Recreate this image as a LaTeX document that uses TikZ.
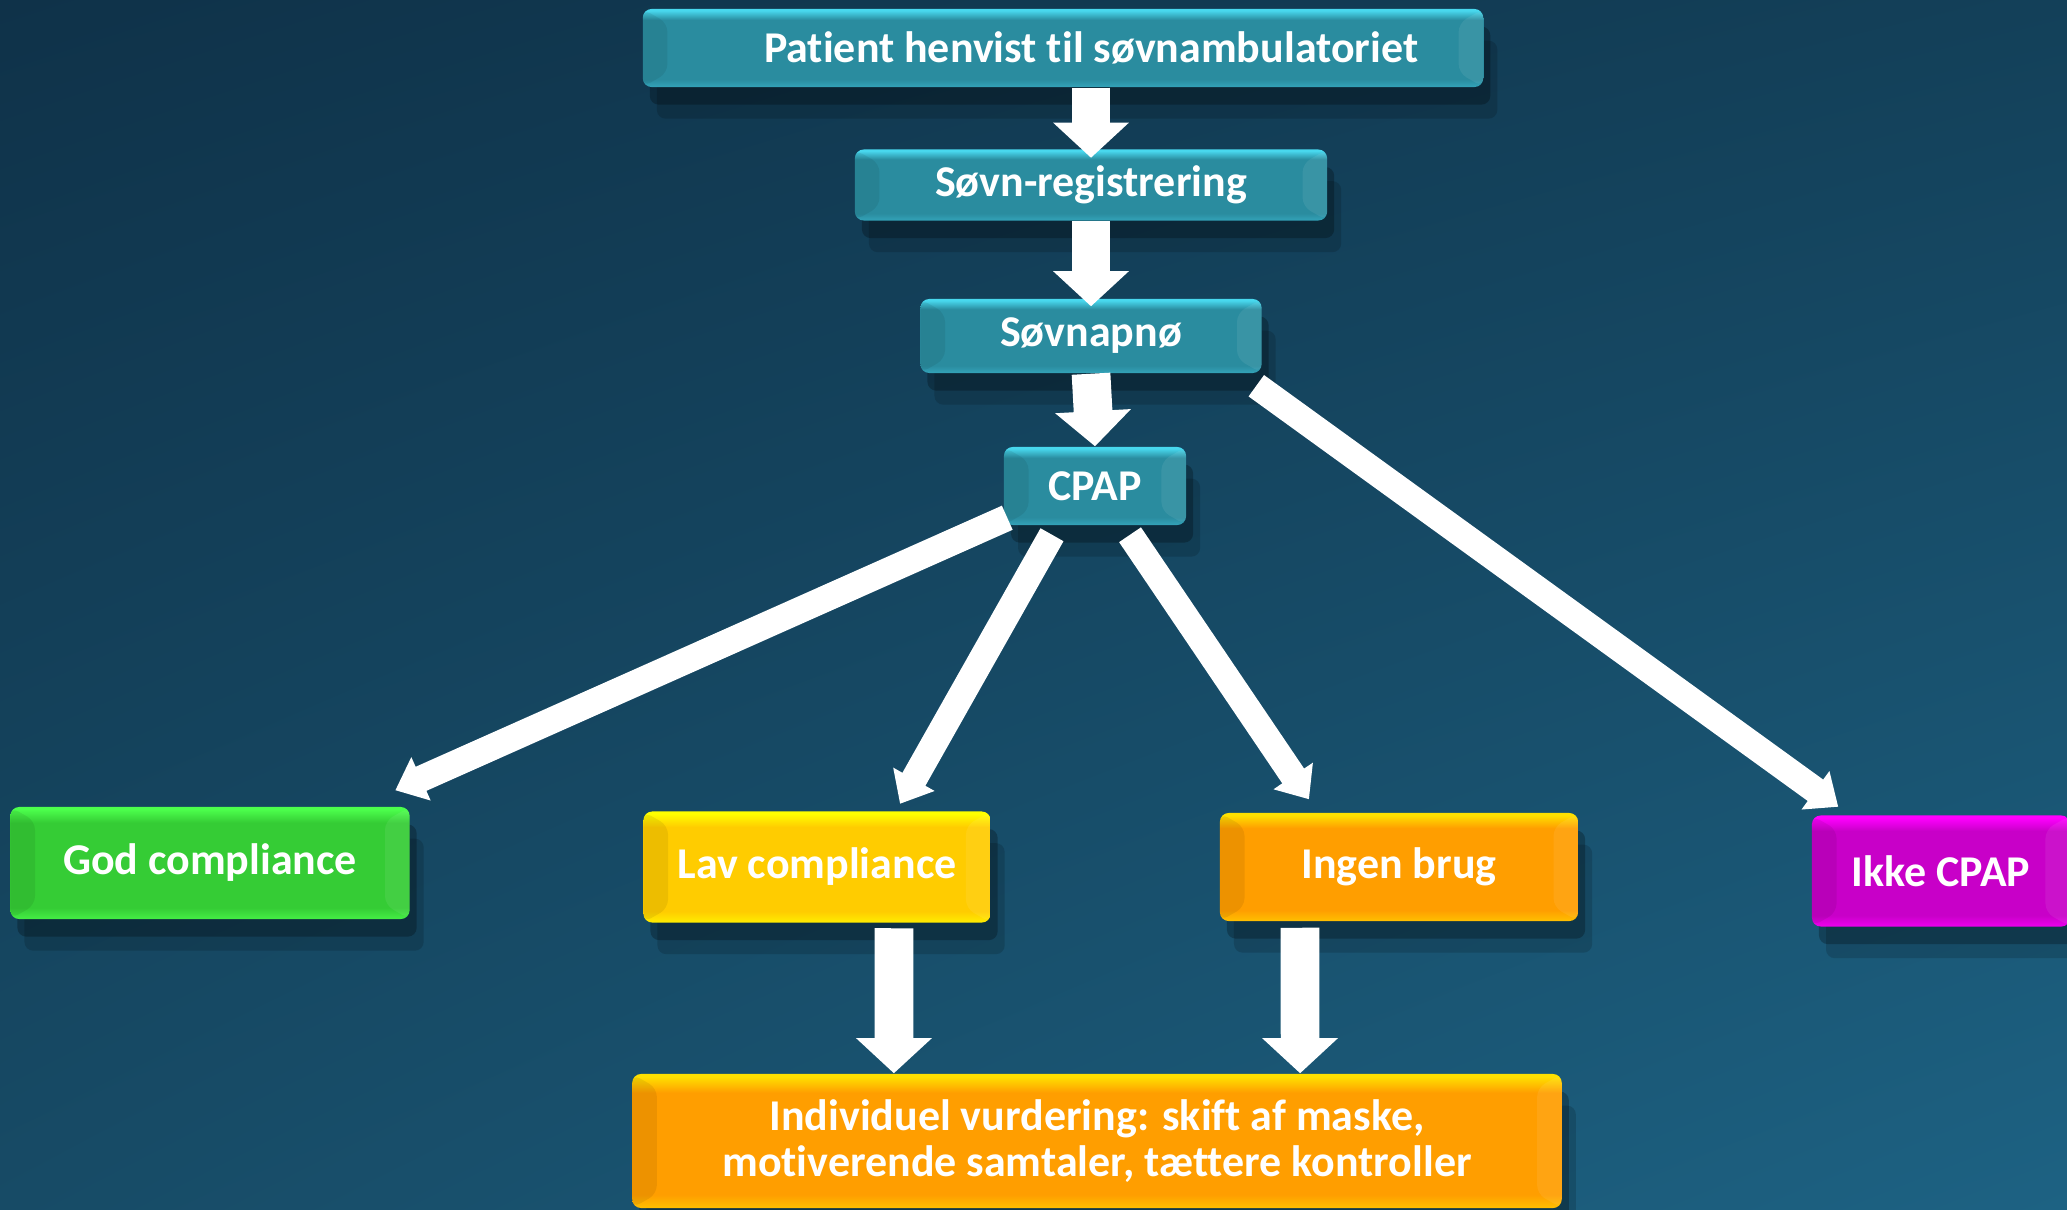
\documentclass[tikz,border=0pt]{standalone}
\usepackage{fontspec}
\setmainfont{Carlito}[Ligatures=NoCommon]
\usetikzlibrary{arrows.meta,shadows,shadings}
\definecolor{bgUL}{HTML}{0F3249}
\definecolor{bgUR}{HTML}{134059}
\definecolor{bgLL}{HTML}{174B66}
\definecolor{bgLR}{HTML}{1D6283}
\definecolor{tealT}{HTML}{48D8EE}
\definecolor{tealM}{HTML}{2A8C9F}
\definecolor{tealB}{HTML}{33A3B9}
\definecolor{greenT}{HTML}{4CFF4C}
\definecolor{greenM}{HTML}{35CC35}
\definecolor{greenB}{HTML}{45EE45}
\definecolor{yellowT}{HTML}{FFFF00}
\definecolor{yellowM}{HTML}{FFCC00}
\definecolor{yellowB}{HTML}{FFEE00}
\definecolor{orangeT}{HTML}{FFE000}
\definecolor{orangeM}{HTML}{FF9E00}
\definecolor{orangeB}{HTML}{FFC000}
\definecolor{magT}{HTML}{FF00FF}
\definecolor{magM}{HTML}{C800C8}
\definecolor{magB}{HTML}{EE00EE}
\colorlet{bvT}{tealT}
\colorlet{bvM}{tealM}
\colorlet{bvB}{tealB}
% flat body, bright top edge, lighter bottom edge (path covers 25bp..75bp)
\pgfdeclareverticalshading[bvT,bvM,bvB]{bevel}{100bp}{color(0bp)=(bvB); color(25bp)=(bvB); color(30bp)=(bvM); color(68bp)=(bvM); color(74bp)=(bvT); color(100bp)=(bvT)}
\begin{document}
\begin{tikzpicture}[x=0.01cm,y=-0.01cm,
  box/.style={rounded corners=2.5pt, inner sep=0pt, text=white, align=center,
    font=\fontsize{12.5}{13}\selectfont\bfseries, shading=bevel,
    drop shadow={shadow xshift=4pt, shadow yshift=-9pt, fill=black, opacity=0.15},
    drop shadow={shadow xshift=2pt, shadow yshift=-5pt, fill=black, opacity=0.25},
    path picture={
      \fill[black,opacity=0.07] (path picture bounding box.north west) -- ++(7pt,-4pt)
        -- ([shift={(7pt,4pt)}]path picture bounding box.south west) -- (path picture bounding box.south west) -- cycle;
      \fill[white,opacity=0.07] (path picture bounding box.north east) -- ++(-7pt,-4pt)
        -- ([shift={(-7pt,4pt)}]path picture bounding box.south east) -- (path picture bounding box.south east) -- cycle;}},
  tealbox/.style={box, /utils/exec={\colorlet{bvT}{tealT}\colorlet{bvM}{tealM}\colorlet{bvB}{tealB}}},
  greenbox/.style={box, /utils/exec={\colorlet{bvT}{greenT}\colorlet{bvM}{greenM}\colorlet{bvB}{greenB}}},
  yellowbox/.style={box, /utils/exec={\colorlet{bvT}{yellowT}\colorlet{bvM}{yellowM}\colorlet{bvB}{yellowB}}},
  orangebox/.style={box, /utils/exec={\colorlet{bvT}{orangeT}\colorlet{bvM}{orangeM}\colorlet{bvB}{orangeB}}},
  magbox/.style={box, /utils/exec={\colorlet{bvT}{magT}\colorlet{bvM}{magM}\colorlet{bvB}{magB}}},
  down/.style={line width=11pt, white, -{Triangle[width=21pt,length=10pt]}},
  diag/.style={line width=7.5pt, white, -{Triangle[width=13pt,length=8pt]}}]

  \useasboundingbox (0,0) rectangle (2067,1209);
  \shade[upper left=bgUL, upper right=bgUR, lower left=bgLL, lower right=bgLR] (0,0) rectangle (2067,1209);

  \node[tealbox, minimum width=8.4cm, minimum height=0.78cm] (top) at (1063,48) {\hspace*{0.56cm}Patient henvist til søvnambulatoriet};
  \node[tealbox, minimum width=4.72cm, minimum height=0.71cm] (reg) at (1091,185) {Søvn-registrering};
  \node[tealbox, minimum width=3.41cm, minimum height=0.74cm] (apno) at (1091,336) {Søvnapnø};
  \node[tealbox, minimum width=1.82cm, minimum height=0.78cm] (cpap) at (1095,486) {CPAP};

  \node[greenbox, minimum width=3.99cm, minimum height=1.12cm] (god) at (210,863) {God compliance};
  \node[yellowbox, minimum width=3.47cm, minimum height=1.11cm] (lav) at (817,867) {Lav compliance};
  \node[orangebox, minimum width=3.58cm, minimum height=1.08cm] (ingen) at (1399,867) {Ingen brug};
  \node[magbox, minimum width=2.58cm, minimum height=1.11cm] (ikke) at (1941,871) {Ikke CPAP};
  \node[orangebox, minimum width=9.29cm, minimum height=1.34cm] (indiv) at (1097,1141) {Individuel vurdering: skift af maske,\\motiverende samtaler, tættere kontroller};

\path (top.south -| reg.north) edge[down] ([yshift=-0.09cm]reg.north)
      (reg.south) edge[down] ([yshift=-0.08cm]apno.north)
      (apno.south) edge[down] (cpap.north)
      ([shift={(0.04cm,0.08cm)}]cpap.south west) edge[diag] ([shift={(-0.15cm,0.16cm)}]god.north east)
      ([shift={(-0.43cm,-0.09cm)}]cpap.south) edge[diag] ([shift={(0.83cm,0.07cm)}]lav.north)
      ([shift={(0.35cm,-0.09cm)}]cpap.south) edge[diag] ([shift={(-0.90cm,0.13cm)}]ingen.north)
      ([shift={(-0.06cm,-0.12cm)}]apno.south east) edge[diag] ([shift={(0.27cm,0.08cm)}]ikke.north west)
      ([shift={(0.77cm,-0.05cm)}]lav.south) edge[down] ([xshift=-2.03cm]indiv.north)
      ([shift={(-0.99cm,-0.06cm)}]ingen.south) edge[down] ([xshift=2.03cm]indiv.north);
\end{tikzpicture}
\end{document}
